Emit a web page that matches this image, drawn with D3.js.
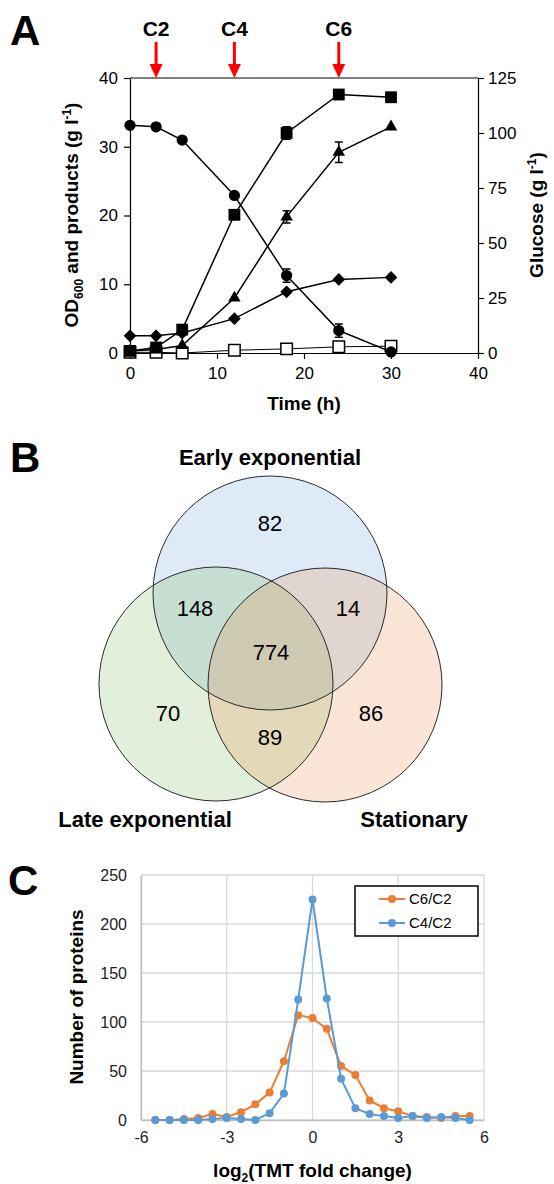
<!DOCTYPE html>
<html>
<head>
<meta charset="utf-8">
<script src="https://cdn.jsdelivr.net/npm/d3@7"></script>
<style>
body{margin:0;background:#fff;}
svg{display:block;font-family:"Liberation Sans",Arial,sans-serif;}
</style>
</head>
<body>
<svg width="554" height="1184"></svg>
<script>
// ---- panel A : fermentation time course ----
var hours = [0, 3, 6, 12, 18, 24, 30];
var glucose = [103.5, 102.8, 96.8, 71.6, 35.2, 10.2, 0.5];     // right axis, filled circles
var glucoseErr = [0, 0, 0, 0, 3, 3, 0];
var od600 = [0.3, 0.8, 3.4, 20.1, 32.0, 37.6, 37.2];           // filled squares
var od600Err = [0, 0, 0, 0, 0.9, 0.5, 0];
var productTri = [0.3, 0.5, 1.1, 8.0, 19.8, 29.2, 32.9];       // filled triangles
var productTriErr = [0, 0, 0, 0, 0.9, 1.5, 0];
var productDia = [2.5, 2.5, 2.9, 5.0, 8.9, 10.7, 11.0];        // filled diamonds
var productOpen = [0.1, 0.1, 0.0, 0.4, 0.6, 0.9, 1.0];         // open squares
var sampleNames = ["C2", "C4", "C6"];
var sampleHours = [3, 12, 24];
var leftTicks = [0, 10, 20, 30, 40];
var rightTicks = [0, 25, 50, 75, 100, 125];
var timeTicks = [0, 10, 20, 30, 40];

// ---- panel B : venn ----
var vennSets = ["Early exponential", "Late exponential", "Stationary"];
var vennRegions = ["E", "L", "S", "EL", "ES", "LS", "ELS"];
var vennCounts = [82, 70, 86, 148, 14, 89, 774];

// ---- panel C : fold change distribution ----
var foldBins = [-5.5, -5, -4.5, -4, -3.5, -3, -2.5, -2, -1.5, -1, -0.5, 0, 0.5, 1, 1.5, 2, 2.5, 3, 3.5, 4, 4.5, 5, 5.5];
var c6c2 = [0, 0, 1, 2, 6, 3, 8, 16, 28, 60, 107, 104, 93, 55, 46, 20, 12, 9, 4, 3, 2, 4, 4];
var c4c2 = [0, 0, 0, 0, 1, 2, 1, 0, 7, 27, 123, 225, 124, 42, 12, 6, 4, 2, 4, 2, 3, 2, 0];
var seriesNames = ["C6/C2", "C4/C2"];
var seriesColors = ["#ed7d31", "#5b9bd5"];
var foldTicks = [-6, -3, 0, 3, 6];
var countTicks = [0, 50, 100, 150, 200, 250];

var svg = d3.select("svg");
var plain = function (d) { return String(d); };   // keep the hyphen minus of the original

function panelLetter(t, x, y) {
  svg.append("text").attr("x", x).attr("y", y)
    .attr("font-size", 42).attr("font-weight", "bold").text(t);
}

// ================= A =================
panelLetter("A", 10, 45);

var x = d3.scaleLinear().domain([0, 40]).range([130, 478]);
var yL = d3.scaleLinear().domain([0, 40]).range([353, 78]);
var yR = d3.scaleLinear().domain([0, 125]).range([353, 78]);

var gA = svg.append("g");

gA.append("line").attr("x1", x(0)).attr("x2", x(40)).attr("y1", yL(40)).attr("y2", yL(40))
  .attr("stroke", "#000").attr("stroke-width", 1.2);

var axL = gA.append("g").attr("transform", "translate(" + x(0) + ",0)")
  .call(d3.axisLeft(yL).tickValues(leftTicks).tickFormat(plain).tickSize(6).tickPadding(6).tickSizeOuter(0));
var axR = gA.append("g").attr("transform", "translate(" + x(40) + ",0)")
  .call(d3.axisRight(yR).tickValues(rightTicks).tickFormat(plain).tickSize(6).tickPadding(4).tickSizeOuter(0));
var axB = gA.append("g").attr("transform", "translate(0," + yL(0) + ")")
  .call(d3.axisBottom(x).tickValues(timeTicks).tickFormat(plain).tickSize(6).tickPadding(8).tickSizeOuter(0));
[axL, axR, axB].forEach(function (a) {
  a.selectAll("text").attr("font-size", 17).attr("fill", "#000");
  a.selectAll("path,line").attr("stroke", "#000").attr("stroke-width", 1.2);
  a.attr("font-family", null);
});

// axis titles
var tL = gA.append("text").attr("transform", "translate(78,215) rotate(-90)")
  .attr("text-anchor", "middle").attr("font-size", 19).attr("font-weight", "bold");
tL.append("tspan").text("OD");
tL.append("tspan").attr("font-size", 12).attr("dy", 5).text("600");
tL.append("tspan").attr("dy", -5).text(" and products (g l");
tL.append("tspan").attr("font-size", 12).attr("dy", -7).text("-1");
tL.append("tspan").attr("dy", 7).text(")");

var tR = gA.append("text").attr("transform", "translate(543,215) rotate(-90)")
  .attr("text-anchor", "middle").attr("font-size", 19).attr("font-weight", "bold");
tR.append("tspan").text("Glucose (g l");
tR.append("tspan").attr("font-size", 12).attr("dy", -7).text("-1");
tR.append("tspan").attr("dy", 7).text(")");

gA.append("text").attr("x", (x(0) + x(40)) / 2).attr("y", 410)
  .attr("text-anchor", "middle").attr("font-size", 19).attr("font-weight", "bold").text("Time (h)");

// sampling arrows
sampleNames.forEach(function (n, i) {
  var cx = x(sampleHours[i]);
  gA.append("text").attr("x", cx).attr("y", 36).attr("text-anchor", "middle")
    .attr("font-size", 21).attr("font-weight", "bold").text(n);
  gA.append("line").attr("x1", cx).attr("x2", cx).attr("y1", 42).attr("y2", 66)
    .attr("stroke", "#ff0000").attr("stroke-width", 3);
  gA.append("path").attr("d", "M" + (cx - 6.5) + ",64L" + (cx + 6.5) + ",64L" + cx + ",78Z")
    .attr("fill", "#ff0000");
});

// series
var seriesA = [
  {v: productOpen, y: yL, sym: "open", err: null, lw: 1},
  {v: productDia, y: yL, sym: "diamond", err: null, lw: 1.5},
  {v: productTri, y: yL, sym: "triangle", err: productTriErr, lw: 1.5},
  {v: od600, y: yL, sym: "square", err: od600Err, lw: 1.5},
  {v: glucose, y: yR, sym: "circle", err: glucoseErr, lw: 1.5}
];

seriesA.forEach(function (s) {
  var line = d3.line().x(function (d, i) { return x(hours[i]); }).y(function (d) { return s.y(d); });
  gA.append("path").datum(s.v).attr("d", line).attr("fill", "none")
    .attr("stroke", "#000").attr("stroke-width", s.lw);
});

seriesA.forEach(function (s) {
  if (s.err) {
    s.v.forEach(function (d, i) {
      if (!s.err[i]) return;
      var cx = x(hours[i]), y1 = s.y(d - s.err[i]), y2 = s.y(d + s.err[i]);
      gA.append("path").attr("d", "M" + cx + "," + y1 + "V" + y2 + "M" + (cx - 4) + "," + y1 + "h8M" + (cx - 4) + "," + y2 + "h8")
        .attr("stroke", "#000").attr("stroke-width", 1.5).attr("fill", "none");
    });
  }
  var gen;
  if (s.sym === "circle") gen = d3.symbol().type(d3.symbolCircle).size(100);
  else if (s.sym === "square") gen = d3.symbol().type(d3.symbolSquare).size(140);
  else if (s.sym === "open") gen = d3.symbol().type(d3.symbolSquare).size(132);
  else if (s.sym === "triangle") gen = d3.symbol().type(d3.symbolTriangle).size(68);
  else gen = d3.symbol().type(d3.symbolSquare).size(80);
  gA.append("g").selectAll("path").data(s.v).enter().append("path")
    .attr("d", gen)
    .attr("transform", function (d, i) {
      return "translate(" + x(hours[i]) + "," + s.y(d) + ")" + (s.sym === "diamond" ? " rotate(45)" : "");
    })
    .attr("fill", s.sym === "open" ? "#fff" : "#000")
    .attr("stroke", "#000").attr("stroke-width", s.sym === "open" ? 1.5 : 0);
});

// ================= B =================
panelLetter("B", 10, 472);

var R = 117;
var vennCircles = [
  {name: vennSets[0], cx: 270, cy: 593, color: "#5b9bd5"},
  {name: vennSets[1], cx: 216, cy: 684, color: "#70ad47"},
  {name: vennSets[2], cx: 325, cy: 685, color: "#ed7d31"}
];
var gB = svg.append("g");
gB.selectAll("circle.fill").data(vennCircles).enter().append("circle")
  .attr("cx", function (d) { return d.cx; }).attr("cy", function (d) { return d.cy; }).attr("r", R)
  .attr("fill", function (d) { return d.color; }).attr("fill-opacity", 0.2);
gB.selectAll("circle.edge").data(vennCircles).enter().append("circle")
  .attr("cx", function (d) { return d.cx; }).attr("cy", function (d) { return d.cy; }).attr("r", R)
  .attr("fill", "none").attr("stroke", "#2a2a2a").attr("stroke-width", 1);

// where each region's count sits
var regionPos = {
  E: [270, 523], L: [168, 713], S: [371, 713],
  EL: [195, 608], ES: [348, 608], LS: [270, 737], ELS: [271, 652]
};
vennRegions.forEach(function (r, i) {
  gB.append("text").attr("x", regionPos[r][0]).attr("y", regionPos[r][1]).attr("dy", "0.35em")
    .attr("text-anchor", "middle").attr("font-size", 22).text(vennCounts[i]);
});
var setLabelPos = [[270, 465], [145, 827], [414, 827]];
vennSets.forEach(function (n, i) {
  gB.append("text").attr("x", setLabelPos[i][0]).attr("y", setLabelPos[i][1])
    .attr("text-anchor", "middle").attr("font-size", 22).attr("font-weight", "bold").text(n);
});

// ================= C =================
panelLetter("C", 8, 895);

var xc = d3.scaleLinear().domain([-6, 6]).range([141, 484]);
var yc = d3.scaleLinear().domain([0, 250]).range([1120, 875]);
var gC = svg.append("g");

gC.append("g").selectAll("line").data(countTicks).enter().append("line")
  .attr("x1", xc(-6)).attr("x2", xc(6)).attr("y1", yc).attr("y2", yc)
  .attr("stroke", "#d9d9d9").attr("stroke-width", 1.3);
gC.append("g").selectAll("line").data(foldTicks).enter().append("line")
  .attr("y1", yc(0)).attr("y2", yc(250)).attr("x1", xc).attr("x2", xc)
  .attr("stroke", "#d9d9d9").attr("stroke-width", 1.3);

var axCL = gC.append("g").attr("transform", "translate(" + xc(-6) + ",0)")
  .call(d3.axisLeft(yc).tickValues(countTicks).tickFormat(plain).tickSize(0).tickPadding(14));
var axCB = gC.append("g").attr("transform", "translate(0," + yc(0) + ")")
  .call(d3.axisBottom(xc).tickValues(foldTicks).tickFormat(plain).tickSize(0).tickPadding(12));
[axCL, axCB].forEach(function (a) {
  a.attr("font-family", null);
  a.selectAll("text").attr("font-size", 16).attr("fill", "#222");
  a.select(".domain").attr("stroke", "#bfbfbf").attr("stroke-width", 1.5);
});

[c6c2, c4c2].forEach(function (vals, k) {
  var line = d3.line().x(function (d, i) { return xc(foldBins[i]); }).y(function (d) { return yc(d); });
  gC.append("path").datum(vals).attr("d", line).attr("fill", "none")
    .attr("stroke", seriesColors[k]).attr("stroke-width", 2);
  gC.append("g").selectAll("circle").data(vals).enter().append("circle")
    .attr("cx", function (d, i) { return xc(foldBins[i]); }).attr("cy", function (d) { return yc(d); })
    .attr("r", 4).attr("fill", seriesColors[k]);
});

// legend
var lg = gC.append("g");
lg.append("rect").attr("x", 355).attr("y", 886).attr("width", 123).attr("height", 50)
  .attr("fill", "#fff").attr("stroke", "#000").attr("stroke-width", 1.5);
seriesNames.forEach(function (n, k) {
  var ly = 899 + k * 24;
  lg.append("line").attr("x1", 379).attr("x2", 405).attr("y1", ly).attr("y2", ly)
    .attr("stroke", seriesColors[k]).attr("stroke-width", 2);
  lg.append("circle").attr("cx", 392).attr("cy", ly).attr("r", 4).attr("fill", seriesColors[k]);
  lg.append("text").attr("x", 409).attr("y", ly).attr("dy", "0.35em").attr("font-size", 15).text(n);
});

gC.append("text").attr("transform", "translate(83,997) rotate(-90)")
  .attr("text-anchor", "middle").attr("font-size", 19).attr("font-weight", "bold").text("Number of proteins");
var tCx = gC.append("text").attr("x", (xc(-6) + xc(6)) / 2).attr("y", 1177)
  .attr("text-anchor", "middle").attr("font-size", 19).attr("font-weight", "bold");
tCx.append("tspan").text("log");
tCx.append("tspan").attr("font-size", 12).attr("dy", 5).text("2");
tCx.append("tspan").attr("dy", -5).text("(TMT fold change)");
</script>
</body>
</html>
